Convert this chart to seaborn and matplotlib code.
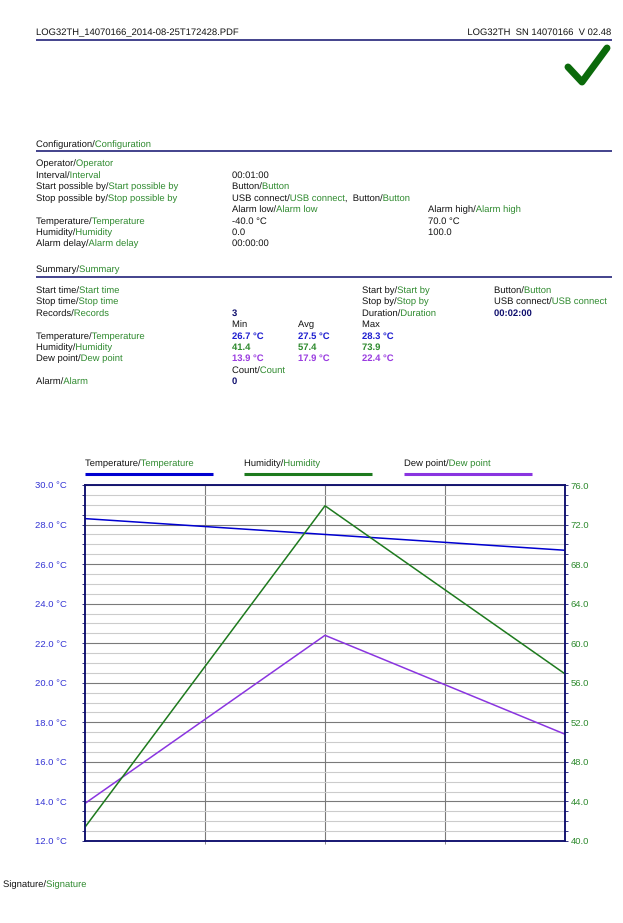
import numpy as np
import pandas as pd
import seaborn as sns
import matplotlib
matplotlib.use("Agg")
import matplotlib.pyplot as plt
import matplotlib.patheffects as pe
from matplotlib.font_manager import FontProperties, findfont, get_font
from matplotlib.textpath import TextToPath
from matplotlib.ticker import MultipleLocator, FixedLocator, FuncFormatter

# ---------------- data ----------------
minutes = [0, 1, 2]
temperature = [28.3, 27.5, 26.7]
humidity = [41.4, 73.9, 56.9]
dew_point = [13.9, 22.4, 17.4]

temp_ticks = [12.0, 14.0, 16.0, 18.0, 20.0, 22.0, 24.0, 26.0, 28.0, 30.0]
hum_ticks = [40.0, 44.0, 48.0, 52.0, 56.0, 60.0, 64.0, 68.0, 72.0, 76.0]
x_grid = [0.5, 1.0, 1.5]

header_left = "LOG32TH_14070166_2014-08-25T172428.PDF"
header_right = "LOG32TH  SN 14070166  V 02.48"

summary_min = ["26.7 °C", "41.4", "13.9 °C"]
summary_avg = ["27.5 °C", "57.4", "17.9 °C"]
summary_max = ["28.3 °C", "73.9", "22.4 °C"]
records = "3"
duration = "00:02:00"
alarm_count = "0"

legend_names = ["Temperature", "Humidity", "Dew point"]

# ---------------- style ----------------
sns.set_theme(style="white")
plt.rcParams["font.family"] = ["Liberation Sans", "DejaVu Sans"]
FS = 6.8
BLACK = "#141414"
GREEN_T = "#2f8a2f"
BLUE = "#0000d0"
GREEN = "#1e7a1e"
PURPLE = "#8a35e0"
NAVY = "#10106e"
TICK_BLUE = "#3434d4"
V_BLUE = "#2020d0"
V_GREEN = "#2e8a2e"
V_PURPLE = "#9a3ce0"

W, H = 623, 923
fig = plt.figure(figsize=(W / 100, H / 100), dpi=100)
bg = fig.add_axes([0, 0, 1, 1])
bg.set_xlim(0, W)
bg.set_ylim(H, 0)
bg.axis("off")

T2P = TextToPath()
PATH_FX = [pe.Normal()]


def advance_px(full, n_chars, weight):
    """Pen position (pixels) of character n_chars inside string full."""
    fp = FontProperties(family="Liberation Sans", size=FS, weight=weight)
    font = get_font(findfont(fp))
    font.set_size(T2P.FONT_SCALE, T2P.DPI)
    info, _, _ = T2P.get_glyphs_with_font(font, full)
    xpos = info[n_chars][1]
    return xpos * FS / T2P.FONT_SCALE * 100.0 / 72.0


def seg(x, y, parts, weight="normal", ha="left"):
    full = "".join(p[0] for p in parts)
    n = 0
    for s, c in parts:
        xi = x + advance_px(full, n, weight) if (ha == "left" and n > 0) else x
        bg.text(xi, y + 3, s, color=c, fontsize=FS, va="baseline", ha=ha,
                weight=weight, path_effects=PATH_FX)
        n += len(s)


def pair(x, y, word):
    return seg(x, y, [(word + "/", BLACK), (word, GREEN_T)])


def rule(y):
    bg.plot([36, 612], [y, y], color=NAVY, lw=1.1, solid_capstyle="butt")


# header
seg(36, 32, [(header_left, BLACK)])
seg(612, 32, [(header_right, BLACK)], ha="right")
rule(40)
bg.plot([568, 582, 607], [67, 82, 48], color="#0b6a0b", lw=5,
        solid_capstyle="round", solid_joinstyle="round")

# configuration
pair(36, 144, "Configuration")
rule(151)
pair(36, 163, "Operator")
pair(36, 175, "Interval")
seg(232, 175, [("00:01:00", BLACK)])
pair(36, 186, "Start possible by")
pair(232, 186, "Button")
pair(36, 198, "Stop possible by")
seg(232, 198, [("USB connect/", BLACK), ("USB connect", GREEN_T),
               (",  Button/", BLACK), ("Button", GREEN_T)])
pair(232, 209, "Alarm low")
pair(428, 209, "Alarm high")
pair(36, 221, "Temperature")
seg(232, 221, [("-40.0 °C", BLACK)])
seg(428, 221, [("70.0 °C", BLACK)])
pair(36, 232, "Humidity")
seg(232, 232, [("0.0", BLACK)])
seg(428, 232, [("100.0", BLACK)])
pair(36, 243, "Alarm delay")
seg(232, 243, [("00:00:00", BLACK)])

# summary
pair(36, 269, "Summary")
rule(277)
pair(36, 290, "Start time")
pair(362, 290, "Start by")
pair(494, 290, "Button")
pair(36, 301, "Stop time")
pair(362, 301, "Stop by")
pair(494, 301, "USB connect")
pair(36, 313, "Records")
seg(232, 313, [(records, NAVY)], weight="bold")
pair(362, 313, "Duration")
seg(494, 313, [(duration, NAVY)], weight="bold")
seg(232, 324, [("Min", BLACK)])
seg(298, 324, [("Avg", BLACK)])
seg(362, 324, [("Max", BLACK)])
row_y = [336, 347, 358]
row_names = ["Temperature", "Humidity", "Dew point"]
row_cols = [V_BLUE, V_GREEN, V_PURPLE]
for yy, nm, cc, a, b, c in zip(row_y, row_names, row_cols,
                               summary_min, summary_avg, summary_max):
    pair(36, yy, nm)
    seg(232, yy, [(a, cc)], weight="bold")
    seg(298, yy, [(b, cc)], weight="bold")
    seg(362, yy, [(c, cc)], weight="bold")
pair(232, 370, "Count")
pair(36, 381, "Alarm")
seg(232, 381, [(alarm_count, NAVY)], weight="bold")

# legend
for lx, nm, cc in zip([85, 244, 404], legend_names, [BLUE, GREEN, PURPLE]):
    pair(lx, 463, nm)
    bg.plot([lx, lx + 128], [474, 474], color=cc, lw=2.2, solid_capstyle="butt")

seg(3, 884, [("Signature/", BLACK), ("Signature", GREEN_T)])

# ---------------- chart ----------------
df = pd.DataFrame({"minute": minutes, "temperature": temperature,
                   "humidity": humidity, "dew_point": dew_point})

ax = fig.add_axes([85 / W, 1 - 841 / H, 480 / W, 356 / H])
ax.set_facecolor("white")
sns.lineplot(data=df, x="minute", y="temperature", ax=ax, color=BLUE, lw=1.1)
sns.lineplot(data=df, x="minute", y="dew_point", ax=ax, color=PURPLE, lw=1.1)
ax.set_xlim(minutes[0], minutes[-1])
ax.set_ylim(temp_ticks[0], temp_ticks[-1])
ax.set_xlabel("")
ax.set_ylabel("")
ax.yaxis.set_major_locator(FixedLocator(temp_ticks))
ax.yaxis.set_minor_locator(MultipleLocator(0.5))
ax.yaxis.set_major_formatter(FuncFormatter(lambda v, p: f"{v:.1f} °C"))
ax.xaxis.set_major_locator(FixedLocator(x_grid))
ax.set_xticklabels([])
ax.set_axisbelow(True)
ax.grid(which="minor", axis="y", color="#cccccc", lw=0.8)
ax.grid(which="major", axis="y", color="#7a7a7a", lw=0.8)
ax.grid(which="major", axis="x", color="#7a7a7a", lw=0.8)
ax.tick_params(axis="y", which="both", direction="out", length=2, width=0.6,
               color=NAVY, left=True, labelsize=FS, labelcolor=TICK_BLUE, pad=11)
ax.tick_params(axis="x", which="major", direction="out", length=2, width=0.6,
               color="#7a7a7a", bottom=True)
for sp in ax.spines.values():
    sp.set_color(NAVY)
    sp.set_linewidth(1.1)

ax2 = ax.twinx()
sns.lineplot(data=df, x="minute", y="humidity", ax=ax2, color=GREEN, lw=1.1)
ax2.set_ylim(hum_ticks[0], hum_ticks[-1])
ax2.set_ylabel("")
ax2.yaxis.set_major_locator(FixedLocator(hum_ticks))
ax2.yaxis.set_minor_locator(MultipleLocator(1))
ax2.yaxis.set_major_formatter(FuncFormatter(lambda v, p: f"{v:.1f}"))
ax2.grid(False)
ax2.tick_params(axis="y", which="both", direction="out", length=2, width=0.6,
                color=NAVY, right=True, labelsize=FS, labelcolor=V_GREEN, pad=2)
for sp in ax2.spines.values():
    sp.set_color(NAVY)
    sp.set_linewidth(1.1)

fig.savefig("out.png", dpi=100)
